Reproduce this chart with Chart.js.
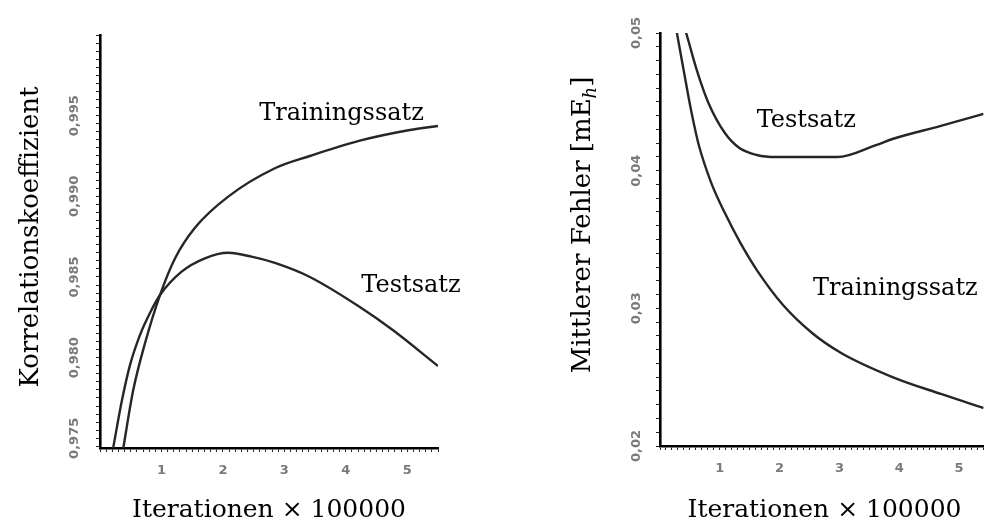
<!DOCTYPE html>
<html lang="de">
<head>
<meta charset="utf-8">
<script src="https://cdn.jsdelivr.net/npm/chart.js@4"></script>
<style>
html, body { margin: 0; padding: 0; background: #fff; }
body { width: 994px; height: 521px; position: relative; overflow: hidden; }
canvas { position: absolute; top: 0; }
#links { left: 0; }
#rechts { left: 540px; }
</style>
</head>
<body>
<canvas id="links" width="480" height="521"></canvas>
<canvas id="rechts" width="454" height="521"></canvas>
<script>
// Linkes Diagramm: Korrelationskoeffizient
const linksTrainX = [0.366, 0.541, 0.732, 0.976, 1.22, 1.545, 2.086, 2.846, 3.415, 4.228, 5.041, 5.5];
const linksTrainY = [0.9741, 0.97799, 0.98089, 0.98388, 0.98615, 0.98805, 0.98998, 0.99174, 0.9925, 0.99345, 0.99411, 0.99436];
const linksTestX = [0.2, 0.358, 0.488, 0.65, 0.813, 0.976, 1.328, 1.707, 2.086, 2.467, 2.846, 3.415, 4.228, 4.764, 5.5];
const linksTestY = [0.9741, 0.97737, 0.97954, 0.9814, 0.98277, 0.98388, 0.98533, 0.98616, 0.9865, 0.98626, 0.98587, 0.985, 0.98314, 0.98171, 0.97948];
const linksYTicks = [0.975, 0.980, 0.985, 0.990, 0.995];
const linksYLabels = ['0,975', '0,980', '0,985', '0,990', '0,995'];

// Rechtes Diagramm: Mittlerer Fehler
const rechtsTrainX = [0.259, 0.486, 0.567, 0.648, 0.858, 1.085, 1.344, 1.619, 2.057, 2.543, 3.028, 3.887, 4.696, 5.41];
const rechtsTrainY = [0.05058, 0.04513, 0.04339, 0.04186, 0.0391, 0.03692, 0.03475, 0.03278, 0.03024, 0.02821, 0.02676, 0.02501, 0.02378, 0.02276];
const rechtsTestX = [0.389, 0.437, 0.615, 0.81, 1.085, 1.328, 1.619, 1.943, 2.964, 3.611, 3.887, 4.696, 5.41];
const rechtsTestY = [0.05065, 0.05, 0.04731, 0.04492, 0.04274, 0.04165, 0.04114, 0.04099, 0.04099, 0.04186, 0.0423, 0.04325, 0.04412];
const rechtsYTicks = [0.02, 0.03, 0.04, 0.05];
const rechtsYLabels = ['0,02', '0,03', '0,04', '0,05'];

const xTickLabels = ['1', '2', '3', '4', '5'];
const xTitel = 'Iterationen \u00d7 100000';

const SERIF = '"DejaVu Serif", serif';
const SANS = '"DejaVu Sans", sans-serif';

// Punkte aus getrennten x/y-Listen zusammensetzen
const punkte = (xs, ys) => xs.map((x, i) => ({ x: x, y: ys[i] }));

function linie(data) {
    return {
        data: data,
        borderColor: '#262626',
        borderWidth: 2.4,
        pointRadius: 0,
        cubicInterpolationMode: 'monotone',
        fill: false
    };
}

// Zeichnet Achsenbeschriftungen und Kurvennamen nach dem Diagramm
function beschriftung(cfg) {
    return {
        id: 'beschriftung',
        afterDraw(chart) {
            const ctx = chart.ctx;
            const xs = chart.scales.x;
            const ys = chart.scales.y;
            const area = chart.chartArea;
            ctx.save();

            // y-Tick-Beschriftung, gedreht
            ctx.fillStyle = '#7a7a7a';
            ctx.font = 'bold 13px ' + SANS;
            ctx.textAlign = 'center';
            ctx.textBaseline = 'middle';
            cfg.yTicks.forEach((v, i) => {
                ctx.save();
                ctx.translate(area.left - cfg.yLabelAbstand, ys.getPixelForValue(v));
                ctx.rotate(-Math.PI / 2);
                ctx.fillText(cfg.yLabels[i], 0, 0);
                ctx.restore();
            });

            // x-Titel
            ctx.fillStyle = '#000';
            ctx.font = cfg.titelGroesse + 'px ' + SERIF;
            ctx.textBaseline = 'alphabetic';
            ctx.textAlign = 'center';
            const mitteX = (xs.getPixelForValue(0) + xs.getPixelForValue(5.5)) / 2;
            ctx.fillText(xTitel, mitteX, cfg.xTitelBasis);

            // y-Titel (mit optionalem Index)
            const gr = cfg.yTitelGroesse;
            ctx.save();
            ctx.translate(cfg.yTitelBasis, cfg.yTitelMitte);
            ctx.rotate(-Math.PI / 2);
            ctx.textAlign = 'left';
            const haupt = cfg.yTitel;
            const sub = cfg.yTitelSub || '';
            const ende = cfg.yTitelEnde || '';
            ctx.font = gr + 'px ' + SERIF;
            const wH = ctx.measureText(haupt).width;
            const wE = ctx.measureText(ende).width;
            ctx.font = 'italic ' + Math.round(gr * 0.7) + 'px ' + SERIF;
            const wS = ctx.measureText(sub).width;
            const x0 = -(wH + wS + wE) / 2;
            ctx.font = gr + 'px ' + SERIF;
            ctx.fillText(haupt, x0, 0);
            if (sub) {
                ctx.font = 'italic ' + Math.round(gr * 0.7) + 'px ' + SERIF;
                ctx.fillText(sub, x0 + wH, gr * 0.22);
                ctx.font = gr + 'px ' + SERIF;
                ctx.fillText(ende, x0 + wH + wS, 0);
            }
            ctx.restore();

            // Kurvennamen
            ctx.font = cfg.notizGroesse + 'px ' + SERIF;
            ctx.textAlign = 'center';
            ctx.textBaseline = 'alphabetic';
            cfg.notizen.forEach(n => {
                ctx.fillText(n.text, xs.getPixelForValue(n.x), ys.getPixelForValue(n.y));
            });
            ctx.restore();
        }
    };
}

function diagramm(id, cfg) {
    return new Chart(document.getElementById(id), {
        type: 'line',
        data: {
            datasets: [
                linie(punkte(cfg.trainX, cfg.trainY)),
                linie(punkte(cfg.testX, cfg.testY))
            ]
        },
        options: {
            responsive: false,
            animation: false,
            events: [],
            layout: { padding: { top: cfg.oben, right: cfg.rechts, left: 0, bottom: 0 } },
            plugins: { legend: { display: false }, tooltip: { enabled: false } },
            scales: {
                x: {
                    type: 'linear',
                    min: 0,
                    max: cfg.xMax,
                    afterFit: s => { s.height = cfg.xAchsenHoehe; },
                    border: { display: true, color: '#000', width: 2.6 },
                    grid: { display: true, drawOnChartArea: false, drawTicks: true, tickLength: 4, color: '#222', lineWidth: 1 },
                    ticks: {
                        stepSize: 0.1,
                        includeBounds: false,
                        autoSkip: false,
                        maxRotation: 0,
                        padding: 11,
                        color: '#7a7a7a',
                        font: { family: SANS, weight: 'bold', size: 13 },
                        callback: v => {
                            const r = Math.round(v);
                            return (Math.abs(v - r) < 1e-6 && r >= 1 && r <= xTickLabels.length) ? xTickLabels[r - 1] : '';
                        }
                    }
                },
                y: {
                    type: 'linear',
                    min: cfg.yMin,
                    max: cfg.yMax,
                    afterFit: s => { s.width = cfg.yAchsenBreite; },
                    border: { display: true, color: '#000', width: 2.6 },
                    grid: { display: true, drawOnChartArea: false, drawTicks: true, tickLength: 4, color: '#222', lineWidth: 1 },
                    ticks: { display: false, stepSize: cfg.yStep, includeBounds: false }
                }
            }
        },
        plugins: [beschriftung(cfg)]
    });
}

diagramm('links', {
    trainX: linksTrainX, trainY: linksTrainY, testX: linksTestX, testY: linksTestY,
    yTicks: linksYTicks, yLabels: linksYLabels,
    xMax: 5.5, yMin: 0.9744, yMax: 1.0, yStep: 0.0005,
    oben: 35, rechts: 42, xAchsenHoehe: 73, yAchsenBreite: 100,
    yLabelAbstand: 25,
    titelGroesse: 25, yTitelGroesse: 26, notizGroesse: 24,
    xTitelBasis: 517, yTitelBasis: 38, yTitelMitte: 237,
    yTitel: 'Korrelationskoeffizient',
    notizen: [
        { text: 'Trainingssatz', x: 3.93, y: 0.99473 },
        { text: 'Testsatz', x: 5.06, y: 0.98407 }
    ]
});

diagramm('rechts', {
    trainX: rechtsTrainX, trainY: rechtsTrainY, testX: rechtsTestX, testY: rechtsTestY,
    yTicks: rechtsYTicks, yLabels: rechtsYLabels,
    xMax: 5.41, yMin: 0.02, yMax: 0.05, yStep: 0.001,
    oben: 33, rechts: 0, xAchsenHoehe: 75, yAchsenBreite: 120,
    yLabelAbstand: 23,
    titelGroesse: 25, yTitelGroesse: 26, notizGroesse: 24,
    xTitelBasis: 517, yTitelBasis: 50, yTitelMitte: 225,
    yTitel: 'Mittlerer Fehler [mE', yTitelSub: 'h', yTitelEnde: ']',
    notizen: [
        { text: 'Testsatz', x: 2.445, y: 0.04317 },
        { text: 'Trainingssatz', x: 3.935, y: 0.03097 }
    ]
});
</script>
</body>
</html>
